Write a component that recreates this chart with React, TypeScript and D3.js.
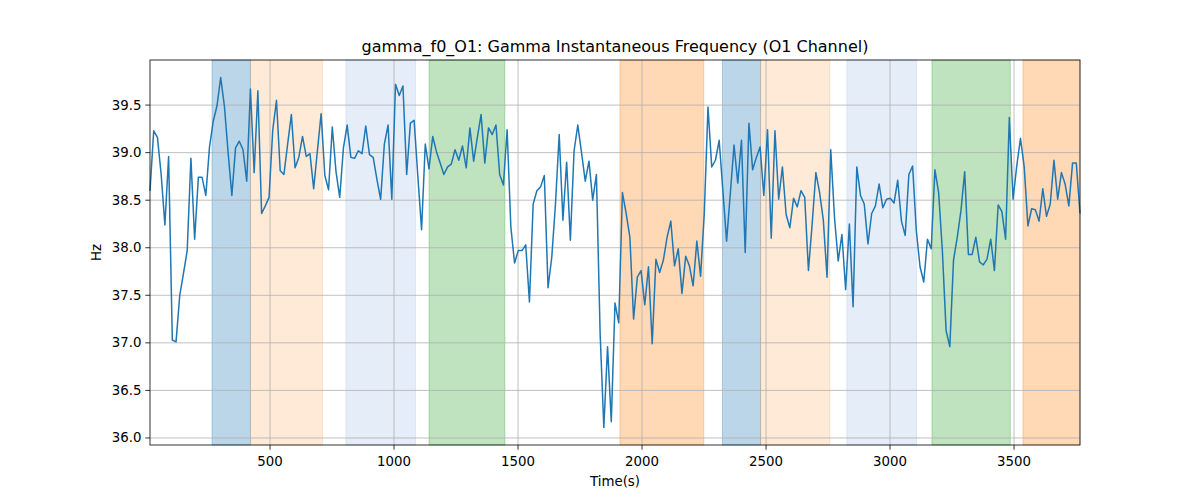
import * as d3 from "d3";

// sampling of the frequency trace (seconds)
const T_START = 16;
const T_STEP = 15;

const freqValues = [
  38.6, 39.23, 39.16, 38.77, 38.24, 38.96, 37.03, 37.01, 37.5, 37.73,
  37.97, 38.94, 38.09, 38.74, 38.74, 38.55, 39.06, 39.33, 39.49, 39.79,
  39.49, 39.0, 38.55, 39.05, 39.12, 39.03, 38.7, 39.67, 38.79, 39.65,
  38.36, 38.44, 38.53, 39.24, 39.55, 38.81, 38.77, 39.09, 39.4, 38.84,
  38.95, 39.17, 38.96, 38.99, 38.62, 39.02, 39.41, 38.76, 38.61, 39.27,
  38.8, 38.53, 39.05, 39.29, 38.95, 38.94, 39.02, 38.99, 39.28, 38.98,
  38.95, 38.72, 38.51, 39.09, 39.29, 38.51, 39.72, 39.6, 39.7, 38.77,
  39.31, 39.34, 38.75, 38.19, 39.09, 38.83, 39.17, 39.01, 38.89, 38.77,
  38.85, 38.88, 39.03, 38.92, 39.07, 38.84, 39.26, 38.91, 39.16, 39.4,
  38.89, 39.26, 39.19, 39.29, 38.77, 38.66, 39.24, 38.22, 37.84, 37.97,
  37.97, 38.03, 37.43, 38.46, 38.6, 38.64, 38.76, 37.58, 37.9, 38.46,
  39.19, 38.29, 38.9, 38.08, 39.02, 39.29, 39.0, 38.7, 38.91, 38.5,
  38.77, 37.1, 36.11, 36.96, 36.17, 37.42, 37.21, 38.58, 38.36, 38.11,
  37.25, 37.69, 37.76, 37.4, 37.8, 36.99, 37.88, 37.74, 37.87, 38.11,
  38.28, 37.81, 37.99, 37.52, 37.91, 37.81, 37.6, 38.07, 37.7, 38.36,
  39.48, 38.85, 38.92, 39.13, 38.6, 38.07, 38.57, 39.08, 38.68, 39.13,
  37.95, 39.31, 38.82, 38.95, 39.06, 38.55, 39.24, 38.1, 39.23, 38.51,
  38.85, 38.35, 38.21, 38.52, 38.43, 38.6, 38.53, 37.76, 38.25, 38.79,
  38.58, 38.29, 37.69, 39.03, 38.32, 37.86, 38.14, 37.56, 38.25, 37.38,
  38.85, 38.55, 38.46, 38.04, 38.36, 38.44, 38.67, 38.42, 38.51, 38.52,
  38.47, 38.71, 38.28, 38.13, 38.77, 38.86, 38.18, 37.8, 37.64, 38.09,
  37.99, 38.82, 38.58, 37.97, 37.13, 36.96, 37.87, 38.11, 38.39, 38.8,
  37.93, 37.93, 38.11, 37.85, 37.82, 37.88, 38.09, 37.76, 38.45, 38.38,
  38.09, 39.37, 38.51, 38.86, 39.15, 38.85, 38.23, 38.41, 38.4, 38.28,
  38.62, 38.33, 38.46, 38.92, 38.51, 38.79, 38.67, 38.44, 38.89, 38.89,
  38.36,
];

// shaded intervals (seconds) and which condition each belongs to
const spanStarts = [266, 421, 806, 1141, 1911, 2324, 2478, 2826, 3169, 3536];
const spanEnds = [421, 712, 1087, 1447, 2249, 2478, 2757, 3107, 3485, 3766];
const spanKinds = ["blue", "peach", "sky", "green", "orange", "blue", "peach", "sky", "green", "orange"];

const xTicks = [500, 1000, 1500, 2000, 2500, 3000, 3500];
const yTicks = [36.0, 36.5, 37.0, 37.5, 38.0, 38.5, 39.0, 39.5];

const kindStyle: Record<string, { color: string; alpha: number }> = {
  blue: { color: "#1f77b4", alpha: 0.3 },
  peach: { color: "#ff7f0e", alpha: 0.16 },
  sky: { color: "#aec7e8", alpha: 0.32 },
  green: { color: "#2ca02c", alpha: 0.3 },
  orange: { color: "#ff7f0e", alpha: 0.3 },
};

const W = 1200;
const H = 500;
const margin = { left: 150, right: 120, top: 60, bottom: 55 };
const font = "'DejaVu Sans', sans-serif";

export default function App() {
  const times = freqValues.map((_, i) => T_START + i * T_STEP);
  const points = freqValues.map((v, i) => [times[i], v] as [number, number]);

  const x = d3
    .scaleLinear()
    .domain([times[0], times[times.length - 1]])
    .range([margin.left, W - margin.right]);

  // matplotlib-like 5% margin on y
  const [ymin, ymax] = d3.extent(freqValues) as [number, number];
  const pad = (ymax - ymin) * 0.05;
  const y = d3
    .scaleLinear()
    .domain([ymin - pad, ymax + pad])
    .range([H - margin.bottom, margin.top]);

  const line = d3
    .line<[number, number]>()
    .x((d) => x(d[0]))
    .y((d) => y(d[1]));

  const x0 = margin.left;
  const x1 = W - margin.right;
  const y0 = margin.top;
  const y1 = H - margin.bottom;

  return (
    <svg
      width={W}
      height={H}
      style={{ position: "absolute", left: 0, top: 0, background: "#fff" }}
      fontFamily={font}
    >
      <rect x={0} y={0} width={W} height={H} fill="#fff" />

      {/* shaded condition spans */}
      {spanStarts.map((s, i) => {
        const st = kindStyle[spanKinds[i]];
        return (
          <rect
            key={"span" + i}
            x={x(s)}
            y={y0}
            width={x(spanEnds[i]) - x(s)}
            height={y1 - y0}
            fill={st.color}
            fillOpacity={st.alpha}
            stroke={st.color}
            strokeOpacity={st.alpha}
            strokeWidth={1}
          />
        );
      })}

      {/* grid */}
      {xTicks.map((t) => (
        <line key={"gx" + t} x1={x(t)} x2={x(t)} y1={y0} y2={y1} stroke="#b0b0b0" strokeWidth={0.8} />
      ))}
      {yTicks.map((t) => (
        <line key={"gy" + t} x1={x0} x2={x1} y1={y(t)} y2={y(t)} stroke="#b0b0b0" strokeWidth={0.8} />
      ))}

      <path
        d={line(points) || ""}
        fill="none"
        stroke="#1f77b4"
        strokeWidth={1.5}
        strokeLinejoin="round"
      />

      {/* frame */}
      <rect x={x0} y={y0} width={x1 - x0} height={y1 - y0} fill="none" stroke="#000" strokeWidth={0.8} />

      {/* x axis */}
      {xTicks.map((t) => (
        <g key={"tx" + t}>
          <line x1={x(t)} x2={x(t)} y1={y1} y2={y1 + 4.7} stroke="#000" strokeWidth={0.8} />
          <text x={x(t)} y={y1 + 20.5} textAnchor="middle" fontSize={13.33} fill="#000">
            {t}
          </text>
        </g>
      ))}
      {/* y axis */}
      {yTicks.map((t) => (
        <g key={"ty" + t}>
          <line x1={x0 - 4.7} x2={x0} y1={y(t)} y2={y(t)} stroke="#000" strokeWidth={0.8} />
          <text
            x={x0 - 8.5}
            y={y(t)}
            textAnchor="end"
            dominantBaseline="central"
            fontSize={13.33}
            fill="#000"
          >
            {t.toFixed(1)}
          </text>
        </g>
      ))}

      <text x={(x0 + x1) / 2} y={486} textAnchor="middle" fontSize={13.33} fill="#000">
        Time(s)
      </text>
      <text
        transform={`translate(101,${(y0 + y1) / 2}) rotate(-90)`}
        textAnchor="middle"
        fontSize={13.33}
        fill="#000"
      >
        Hz
      </text>
      <text x={(x0 + x1) / 2} y={52} textAnchor="middle" fontSize={16} fill="#000">
        gamma_f0_O1: Gamma Instantaneous Frequency (O1 Channel)
      </text>
    </svg>
  );
}
